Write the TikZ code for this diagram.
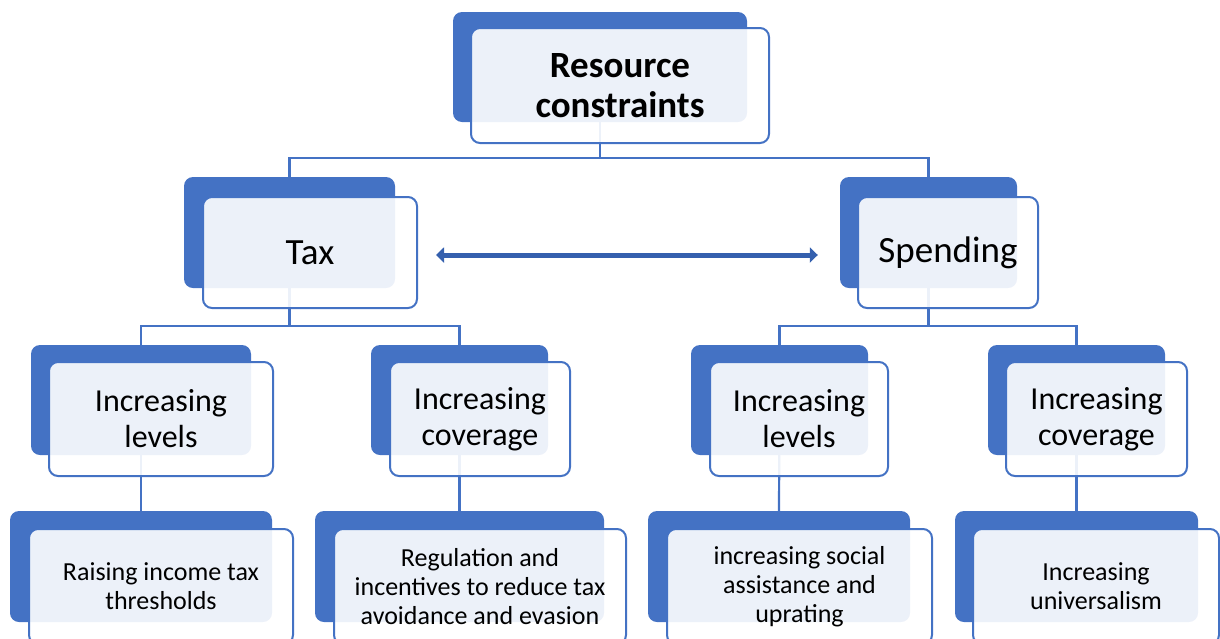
\documentclass[tikz,border=0pt]{standalone}
\usepackage{fontspec}
\setmainfont{Carlito}
\usetikzlibrary{arrows.meta,backgrounds}
\definecolor{boxblue}{HTML}{4472C4}
\definecolor{arrowblue}{HTML}{3560AE}
\tikzset{
 back/.style={rectangle, rounded corners=9pt, fill=boxblue, inner sep=0pt},
 card/.style={rectangle, rounded corners=9pt, draw=boxblue, line width=2pt, fill=white, fill opacity=0.9, text opacity=1, align=center, inner sep=0pt, font=\fontsize{32}{36}\selectfont},
 small/.style={font=\fontsize{26}{29}\selectfont},
 link/.style={draw=boxblue, line width=2.2pt},
 twoway/.style={arrowblue, line width=5pt, {Triangle[length=8pt,width=15pt]}-{Triangle[length=8pt,width=15pt]}}
}
\begin{document}
\begin{tikzpicture}[x=1pt,y=-1pt]
 \path[use as bounding box, clip] (0,0) rectangle (1220,638);
 % top
 \node[back, minimum width=294, minimum height=110] (topb) at (600,67) {};
 \node[card, minimum width=298, minimum height=115, font=\fontsize{37}{40}\selectfont\bfseries] (top) at (620,85.5) {Resource\\constraints};
 % tax / spending
 \node[back, minimum width=211, minimum height=111] (taxb) at (289.5,232.5) {};
 \node[card, minimum width=214, minimum height=111, font=\fontsize{37}{40}\selectfont] (tax) at (310,252.5) {Tax};
 \node[back, minimum width=177, minimum height=111] (spb) at (928.5,232.5) {};
 \node[card, minimum width=180, minimum height=111, font=\fontsize{37}{40}\selectfont] (sp) at (948,252.5) {Spending};
 % second row
 \node[back, minimum width=220, minimum height=110] (tlevb) at (141,400) {};
 \node[card, minimum width=224, minimum height=114] (tlev) at (161,419) {Increasing\\levels};
 \node[back, minimum width=177, minimum height=110] (tcovb) at (459.5,400) {};
 \node[card, minimum width=180, minimum height=114] (tcov) at (480,419) {Increasing\\coverage};
 \node[back, minimum width=177, minimum height=110] (slevb) at (779.5,400) {};
 \node[card, minimum width=178, minimum height=114] (slev) at (799,419) {Increasing\\levels};
 \node[back, minimum width=177, minimum height=110] (scovb) at (1076.5,400) {};
 \node[card, minimum width=181, minimum height=114] (scov) at (1096.5,419) {Increasing\\coverage};
 % third row
 \node[back, minimum width=262, minimum height=111] (traisb) at (141,566.5) {};
 \node[card, small, minimum width=264, minimum height=115] (trais) at (161,586.5) {Raising income tax\\thresholds};
 \node[back, minimum width=289, minimum height=111] (tregb) at (459.5,566.5) {};
 \node[card, small, minimum width=292, minimum height=115] (treg) at (480,586.5) {Regulation and\\incentives to reduce tax\\avoidance and evasion};
 \node[back, minimum width=262, minimum height=111] (ssocb) at (779,566.5) {};
 \node[card, small, minimum width=265, minimum height=115] (ssoc) at (799.5,586.5) {increasing social\\assistance and\\uprating};
 \node[back, minimum width=243, minimum height=111] (sunivb) at (1076.5,566.5) {};
 \node[card, small, minimum width=246, minimum height=115] (suniv) at (1096,586.5) {Increasing\\universalism};
 % connectors
 \coordinate (bar1) at (600,158);
 \coordinate (bar2) at (289.5,326);
 \coordinate (bar3) at (928.5,326);
 \begin{scope}[on background layer]
 \draw[link] (topb.center) -- (bar1) -| (taxb.north);
 \draw[link] (bar1) -| (spb.north);
 \draw[link] (taxb.center) -- (bar2) -| (tlevb.north);
 \draw[link] (bar2) -| (tcovb.north);
 \draw[link] (spb.center) -- (bar3) -| (slevb.north);
 \draw[link] (bar3) -| (scovb.north);
 \draw[link] (tlevb.center) -- (traisb.north);
 \draw[link] (tcovb.center) -- (tregb.north);
 \draw[link] (slevb.center) -- (ssocb.north);
 \draw[link] (scovb.center) -- (sunivb.north);
 \end{scope}
 \draw[twoway, shorten <=18pt, shorten >=22pt] ([yshift=-2.5pt]tax.east) -- ([yshift=-2.5pt]tax.east -| spb.west);
\end{tikzpicture}
\end{document}
